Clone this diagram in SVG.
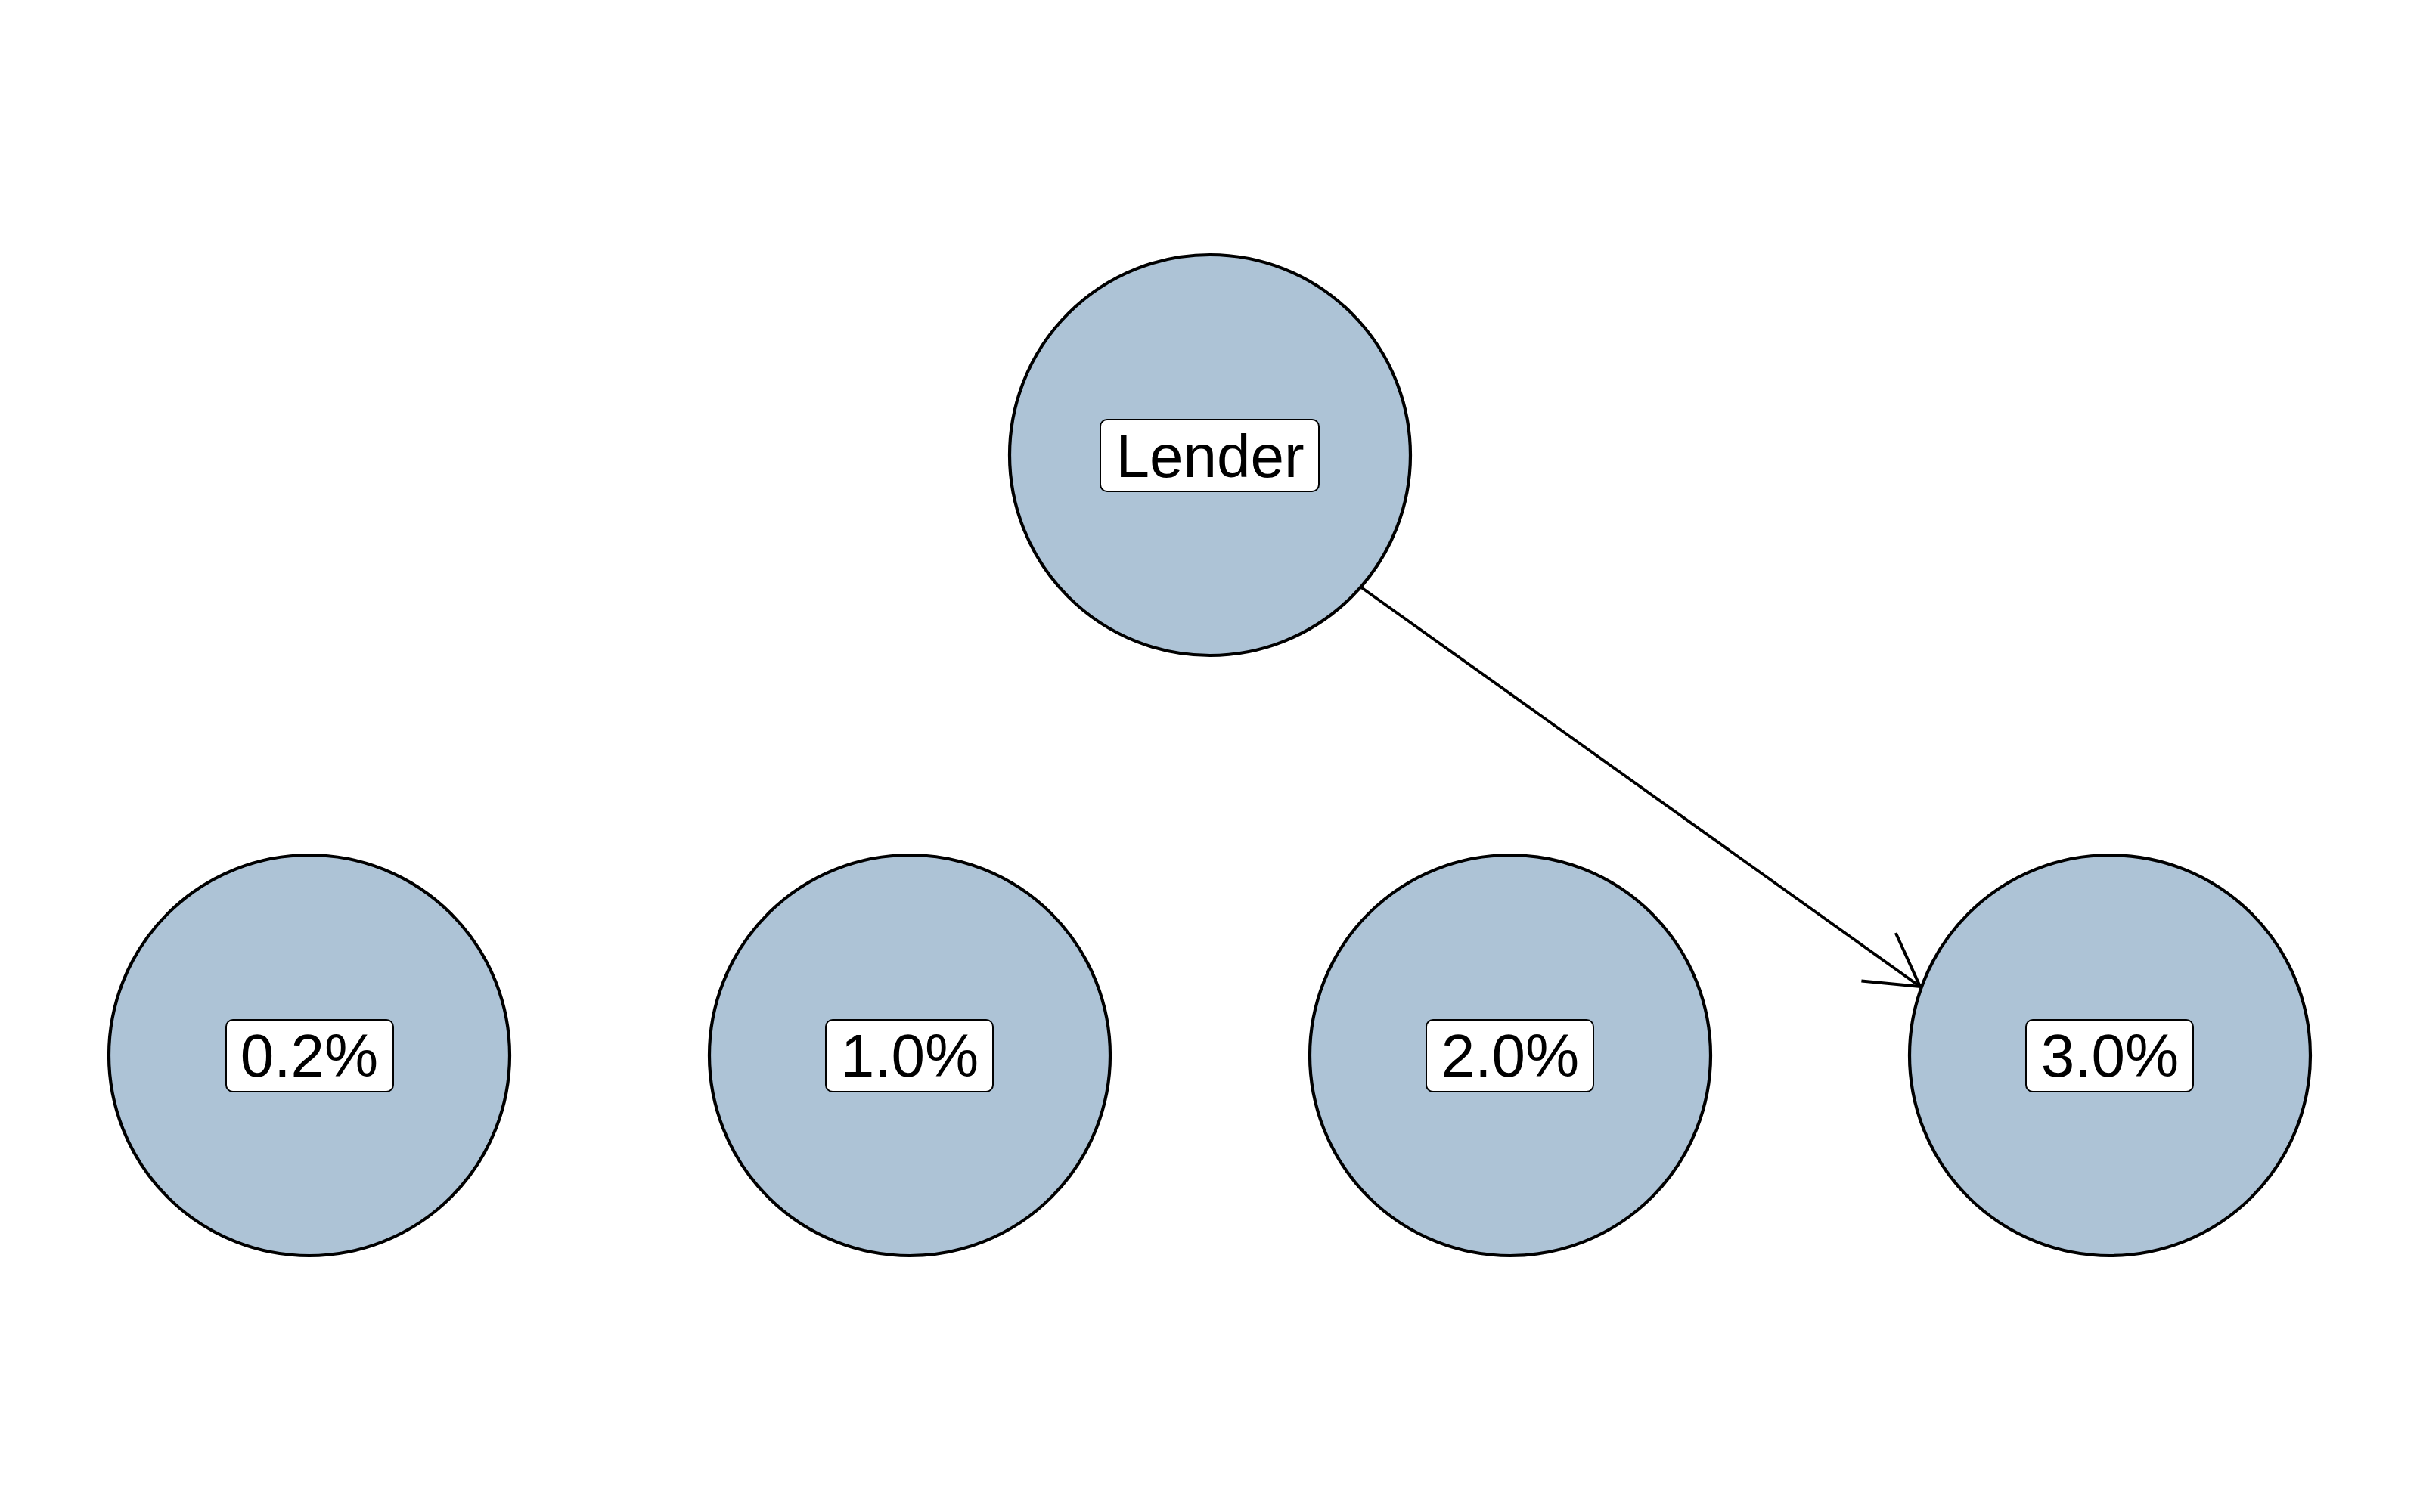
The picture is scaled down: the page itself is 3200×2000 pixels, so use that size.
<svg xmlns="http://www.w3.org/2000/svg" width="3200" height="2000" viewBox="0 0 3200 2000">
<style>
.node{fill:#ADC3D6;stroke:#000;stroke-width:4.2}
.lbl{fill:#fff;stroke:#000;stroke-width:2}
.txt{font-family:"Liberation Sans",Arial,sans-serif;font-size:80px;fill:#000;text-anchor:middle}
.edge{fill:none;stroke:#000;stroke-width:3.8}
</style>
<defs>
<marker id="arr" markerUnits="userSpaceOnUse" markerWidth="200" markerHeight="200" viewBox="-100 -100 200 200" refX="0" refY="0" orient="auto">
<path d="M -67.5,-39 L 0,0 L -67.5,39" fill="none" stroke="#000" stroke-width="4"/>
</marker>
</defs>
<rect width="3200" height="2000" fill="#fff"/>
<g id="connectors">
<line class="edge" x1="1800" y1="777" x2="2539" y2="1305" marker-end="url(#arr)"/>
</g>
<g id="lender">
<circle class="node" cx="1600" cy="602" r="265"/>
<rect class="lbl" x="1455" y="555" width="289" height="95" rx="9"/>
<text class="txt" x="1600" y="631">Lender</text>
</g>
<g id="n02">
<circle class="node" cx="409" cy="1396" r="265"/>
<rect class="lbl" x="299" y="1349" width="221" height="95" rx="9"/>
<text class="txt" x="409" y="1424">0.2%</text>
</g>
<g id="n10">
<circle class="node" cx="1203" cy="1396" r="265"/>
<rect class="lbl" x="1092" y="1349" width="221" height="95" rx="9"/>
<text class="txt" x="1203" y="1424">1.0%</text>
</g>
<g id="n20">
<circle class="node" cx="1997" cy="1396" r="265"/>
<rect class="lbl" x="1886" y="1349" width="221" height="95" rx="9"/>
<text class="txt" x="1997" y="1424">2.0%</text>
</g>
<g id="n30">
<circle class="node" cx="2790" cy="1396" r="265"/>
<rect class="lbl" x="2679" y="1349" width="221" height="95" rx="9"/>
<text class="txt" x="2790" y="1424">3.0%</text>
</g>
</svg>
